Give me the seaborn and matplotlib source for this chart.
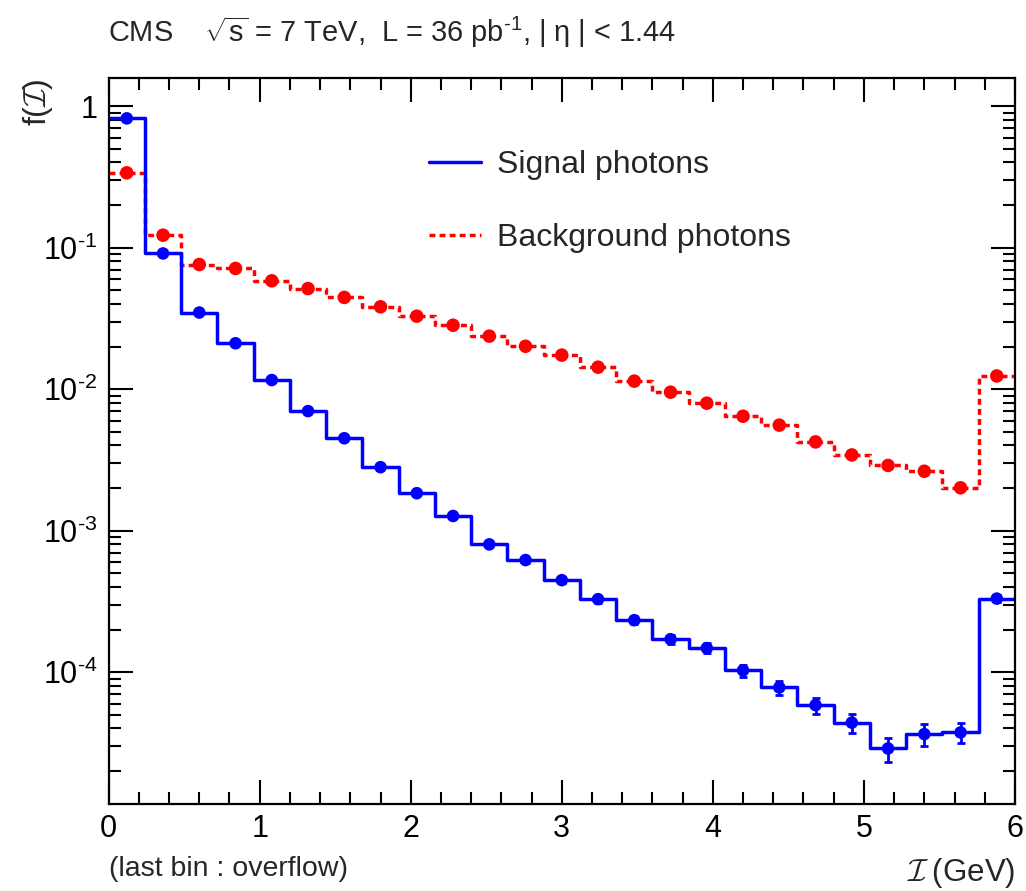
import numpy as np
import pandas as pd
import matplotlib
matplotlib.use("Agg")
import matplotlib.pyplot as plt
import seaborn as sns
from matplotlib.lines import Line2D
from matplotlib.ticker import FixedLocator, FuncFormatter, LogLocator, MultipleLocator, NullFormatter

# ---------------- data ----------------
bin_width = 0.24
bin_centers = [0.12, 0.36, 0.60, 0.84, 1.08, 1.32, 1.56, 1.80, 2.04, 2.28,
               2.52, 2.76, 3.00, 3.24, 3.48, 3.72, 3.96, 4.20, 4.44, 4.68,
               4.92, 5.16, 5.40, 5.64, 5.88]
signal = [0.82, 0.091, 0.0348, 0.0211, 0.0116, 0.0070, 0.0045, 0.00281, 0.00184, 0.00127,
          8.0e-4, 6.2e-4, 4.47e-4, 3.28e-4, 2.33e-4, 1.71e-4, 1.48e-4, 1.03e-4, 7.8e-5, 5.85e-5,
          4.4e-5, 2.89e-5, 3.65e-5, 3.75e-5, 3.31e-4]
signal_err = [0.004, 0.0009, 0.0004, 0.0003, 0.0002, 0.00013, 0.0001, 7e-5, 5e-5, 3.8e-5,
              3e-5, 2.6e-5, 2.1e-5, 1.8e-5, 1.5e-5, 1.3e-5, 1.2e-5, 1.0e-5, 8.5e-6, 7.5e-6,
              6.6e-6, 5.6e-6, 6.2e-6, 6.0e-6, 1.8e-5]
background = [0.338, 0.1225, 0.076, 0.0713, 0.0583, 0.0514, 0.0445, 0.0382, 0.0328, 0.0283,
              0.0237, 0.0201, 0.0174, 0.0143, 0.0114, 0.00952, 0.00796, 0.00644, 0.00557, 0.00424,
              0.00343, 0.00289, 0.00263, 0.00201, 0.0124]
y_major = [1, 1e-1, 1e-2, 1e-3, 1e-4]
y_major_labels = ["1", r"$\mathregular{10^{\text{-}1}}$", r"$\mathregular{10^{\text{-}2}}$",
                  r"$\mathregular{10^{\text{-}3}}$", r"$\mathregular{10^{\text{-}4}}$"]
series_labels = ["Signal photons", "Background photons"]

# ---------------- style ----------------
sns.set_theme(style="ticks")
plt.rcParams["font.family"] = ["Liberation Sans", "DejaVu Sans"]
plt.rcParams["mathtext.fontset"] = "custom"
plt.rcParams["mathtext.rm"] = "Liberation Sans"
plt.rcParams["mathtext.it"] = "Liberation Sans:italic"
plt.rcParams["mathtext.bf"] = "Liberation Sans:bold"
plt.rcParams["mathtext.cal"] = "cmsy10"

BLUE = "#0000ff"
RED = "#ff0000"
DASH = (0, (1.7, 1.2))

fig = plt.figure(figsize=(10.26, 8.91), dpi=100)
ax = fig.add_axes([0.1059, 0.0976, 0.8833, 0.8148])

centers = np.array(bin_centers)
edges = np.append(centers - bin_width / 2, centers[-1] + bin_width / 2)

df_sig = pd.DataFrame({"x": edges, "y": signal + [signal[-1]]})
df_bkg = pd.DataFrame({"x": edges, "y": background + [background[-1]]})

sns.lineplot(data=df_bkg, x="x", y="y", drawstyle="steps-post", color=RED, lw=2.5,
             linestyle=DASH, estimator=None, sort=False, ax=ax)
sns.lineplot(data=df_sig, x="x", y="y", drawstyle="steps-post", color=BLUE, lw=2.5,
             estimator=None, sort=False, ax=ax)

ax.errorbar(centers, signal, yerr=signal_err, fmt="none", ecolor=BLUE,
            elinewidth=2, capsize=3, capthick=2, zorder=4)
sns.scatterplot(x=centers, y=background, color=RED, s=95, edgecolor="none", zorder=5, ax=ax)
sns.scatterplot(x=centers, y=signal, color=BLUE, s=82, edgecolor="none", zorder=5, ax=ax)

ax.set_yscale("log")
ax.set_xlim(0, 6)
ax.set_ylim(1.17e-5, 1.58)

ax.xaxis.set_major_locator(MultipleLocator(1))
ax.xaxis.set_minor_locator(MultipleLocator(0.2))
ax.yaxis.set_major_locator(FixedLocator(y_major))
ax.yaxis.set_major_formatter(FuncFormatter(lambda v, p: y_major_labels[y_major.index(min(y_major, key=lambda m: abs(np.log10(m) - np.log10(v))))]))
ax.yaxis.set_minor_locator(LogLocator(base=10, subs=np.arange(2, 10), numticks=20))
ax.yaxis.set_minor_formatter(NullFormatter())

ax.tick_params(which="both", direction="in", top=True, right=True, width=1.5,
               colors="black", labelsize=22)
ax.tick_params(which="major", length=17.5)
ax.tick_params(which="minor", length=8.5)
ax.tick_params(axis="y", which="major", pad=8)
ax.tick_params(axis="x", which="major", pad=7)
for s in ax.spines.values():
    s.set_linewidth(1.6)
    s.set_color("black")

ax.set_xlabel(r"$\mathcal{I}\;$(GeV)", fontsize=22.5, loc="right")
ax.xaxis.set_label_coords(1.0, -0.072)
ax.set_ylabel(r"f($\mathcal{I}$)", fontsize=23, loc="top")
ax.yaxis.set_label_coords(-0.059, 1.0)

ax.text(0.0, -0.0895, "(last bin : overflow)", transform=ax.transAxes,
        ha="left", va="center", fontsize=20.5)

fig.text(0.1055, 1 - 32 / 891,
         r"CMS    $\sqrt{\mathrm{s}}$ = 7 TeV,  L = 36 pb$^{\text{-}\mathrm{1}}$, | η | < 1.44",
         ha="left", va="center", fontsize=20.9)

handles = [Line2D([], [], color=BLUE, lw=2.5),
           Line2D([], [], color=RED, lw=2.5, linestyle=DASH)]
leg = ax.legend(handles, series_labels, loc="upper left", bbox_to_anchor=(0.354, 0.901),
                frameon=False, fontsize=23, handlelength=1.6, handletextpad=0.5,
                labelspacing=1.36, borderpad=0, borderaxespad=0)

fig.savefig("out.png", dpi=100)
